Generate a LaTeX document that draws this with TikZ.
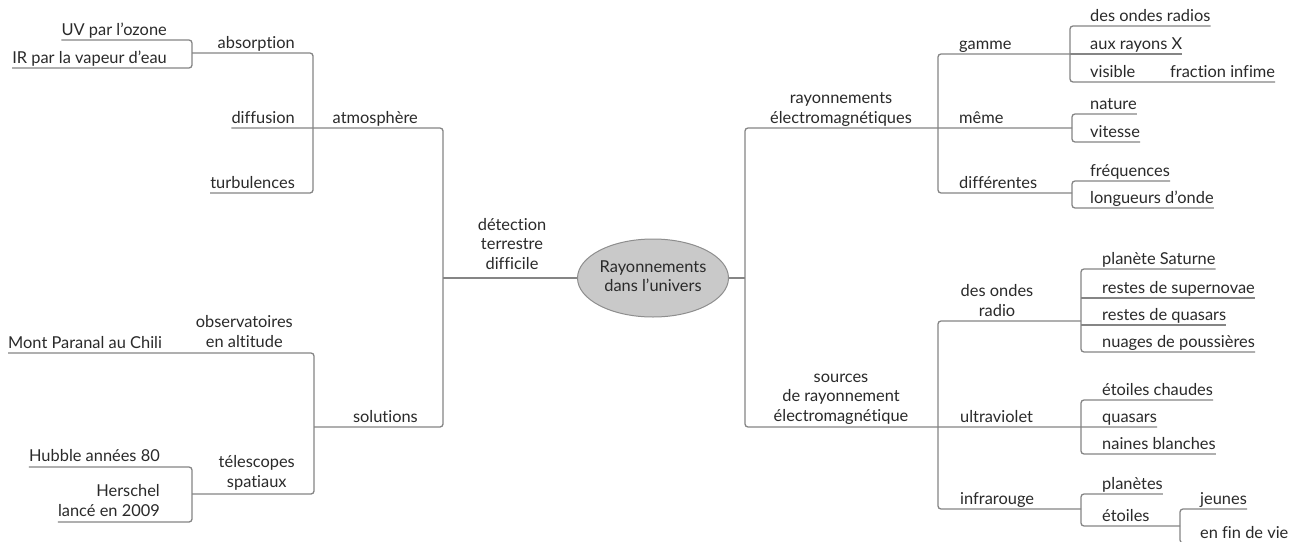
\documentclass[tikz,border=0pt]{standalone}
\usepackage{fontspec}
\setmainfont{Lato}[Ligatures={NoCommon}]
\usetikzlibrary{shapes.geometric}
\definecolor{lncol}{HTML}{858585}
\definecolor{txcol}{HTML}{2A2A2A}
\definecolor{rootfill}{HTML}{C9C9C9}
\definecolor{rootdraw}{HTML}{8E8E8E}
\newcommand{\mlc}[1]{\begin{tabular}[b]{@{}c@{}}#1\end{tabular}}
\newcommand{\mlr}[1]{\begin{tabular}[b]{@{}r@{}}#1\end{tabular}}
\begin{document}
\begin{tikzpicture}[x=1pt,y=-1pt,
  lt/.style={inner sep=0pt, text=txcol, font=\fontsize{16.4}{19.5}\selectfont},
  lw/.style={lt, anchor=base west},
  le/.style={lt, anchor=base east},
  lc/.style={lt, anchor=base},
  conn/.style={draw=lncol, line width=1.3pt, rounded corners=3pt},
  rootnode/.style={ellipse, draw=rootdraw, fill=rootfill, line width=1pt,
    minimum width=146pt, minimum height=78pt, inner sep=0pt, text=txcol,
    font=\fontsize{16.4}{19.5}\selectfont},
]
\useasboundingbox (0,0) rectangle (1297,541);
\clip (0,0) rectangle (1297,541);
\fill[white] (0,0) rectangle (1297,541);

% ---------- root ----------
\node[rootnode] (root) at (653,278) {\mlc{Rayonnements\\dans l’univers}};

% ---------- left side ----------
\node[le] (uv)  at (167,35)  {UV par l’ozone};
\node[le] (ir)  at (167,63)  {IR par la vapeur d’eau};
\node[le] (abs) at (295,48)  {absorption};
\node[le] (dif) at (295,123) {diffusion};
\node[le] (tur) at (295,188) {turbulences};
\node[le] (atm) at (418,123) {atmosphère};
\node[lc] (det) at (512,269) {\mlc{détection\\terrestre\\difficile}};
\node[le] (sol) at (418,422) {solutions};
\node[le] (obs) at (293,347) {\mlc{observatoires\\en altitude}};
\node[lw] (mont) at (8,348)  {Mont Paranal au Chili};
\node[le] (tel) at (295,487) {\mlc{télescopes\\spatiaux}};
\node[le] (hub) at (160,461) {Hubble années 80};
\node[le] (her) at (160,516) {\mlr{Herschel\\lancé en 2009}};

\draw[conn] (uv.west |- 0,40) -- (192,40) -- (192,68) -- (ir.west |- 0,68);
\draw[conn] (192,53) -- (313,53) -- (313,193) -- (tur.west |- 0,193);
\draw[conn] (dif.west |- 0,128) -- (443,128) -- (443,427) -- (314,427);
\draw[conn] (mont.west |- 0,353) -- (314,353) -- (314,494) -- (192,494);
\draw[conn] (hub.west |- 0,467) -- (192,467) -- (192,522) -- (her.west |- 0,522);
\draw[conn] (443,278) -- (root.west);

% ---------- right side ----------
\node[lc] (ray)  at (841,123) {\mlc{rayonnements\\électromagnétiques}};
\node[lw] (gam)  at (959,49)  {gamme};
\node[lw] (ond)  at (1090,21) {des ondes radios};
\node[lw] (aux)  at (1090,49) {aux rayons X};
\node[lw] (vis)  at (1090,77) {visible};
\node[lw] (frac) at (1170,77) {fraction infime};
\node[lw] (meme) at (959,123) {même};
\node[lw] (nat)  at (1090,109) {nature};
\node[lw] (vit)  at (1090,137) {vitesse};
\node[lw] (diff) at (959,188) {différentes};
\node[lw] (freq) at (1090,176) {fréquences};
\node[lw] (long) at (1090,203) {longueurs d’onde};

\node[lc] (src)  at (841,421) {\mlc{sources\\de rayonnement\\électromagnétique}};
\node[lc] (rad)  at (997,316) {\mlc{des ondes\\radio}};
\node[lw] (sat)  at (1102,264) {planète Saturne};
\node[lw] (sup)  at (1102,293) {restes de supernovae};
\node[lw] (qua)  at (1102,320) {restes de quasars};
\node[lw] (nua)  at (1102,347) {nuages de poussières};
\node[lw] (ultra) at (960,422) {ultraviolet};
\node[lw] (chau) at (1102,395) {étoiles chaudes};
\node[lw] (qsr)  at (1102,422) {quasars};
\node[lw] (nain) at (1102,449) {naines blanches};
\node[lw] (infra) at (960,504) {infrarouge};
\node[lw] (plan) at (1102,489) {planètes};
\node[lw] (etoi) at (1102,521) {étoiles};
\node[lw] (jeun) at (1200,504) {jeunes};
\node[lw] (fin)  at (1200,538) {en fin de vie};

\draw[conn] (root.east) -- (745,278);
\draw[conn] (1072,128) -- (745,128) -- (745,427) -- (qsr.east |- 0,427);
\draw[conn] (1070,54) -- (938,54) -- (938,193) -- (1072,193);
\draw[conn] (ond.east |- 0,26) -- (1070,26) -- (1070,82) -- (frac.east |- 0,82);
\draw[conn] (1070,54) -- (aux.east |- 0,54);
\draw[conn] (nat.east |- 0,114) -- (1072,114) -- (1072,142) -- (vit.east |- 0,142);
\draw[conn] (freq.east |- 0,181) -- (1072,181) -- (1072,208) -- (long.east |- 0,208);
\draw[conn] (1081,321) -- (938,321) -- (938,509) -- (1081,509);
\draw[conn] (sat.east |- 0,269) -- (1081,269) -- (1081,352) -- (nua.east |- 0,352);
\draw[conn] (1081,298) -- (sup.east |- 0,298);
\draw[conn] (1081,325) -- (qua.east |- 0,325);
\draw[conn] (chau.east |- 0,400) -- (1081,400) -- (1081,454) -- (nain.east |- 0,454);
\draw[conn] (plan.east |- 0,494) -- (1081,494) -- (1081,526) -- (1180,526);
\draw[conn] (jeun.east |- 0,509) -- (1180,509) -- (1180,543) -- (fin.east |- 0,543);
\end{tikzpicture}
\end{document}
